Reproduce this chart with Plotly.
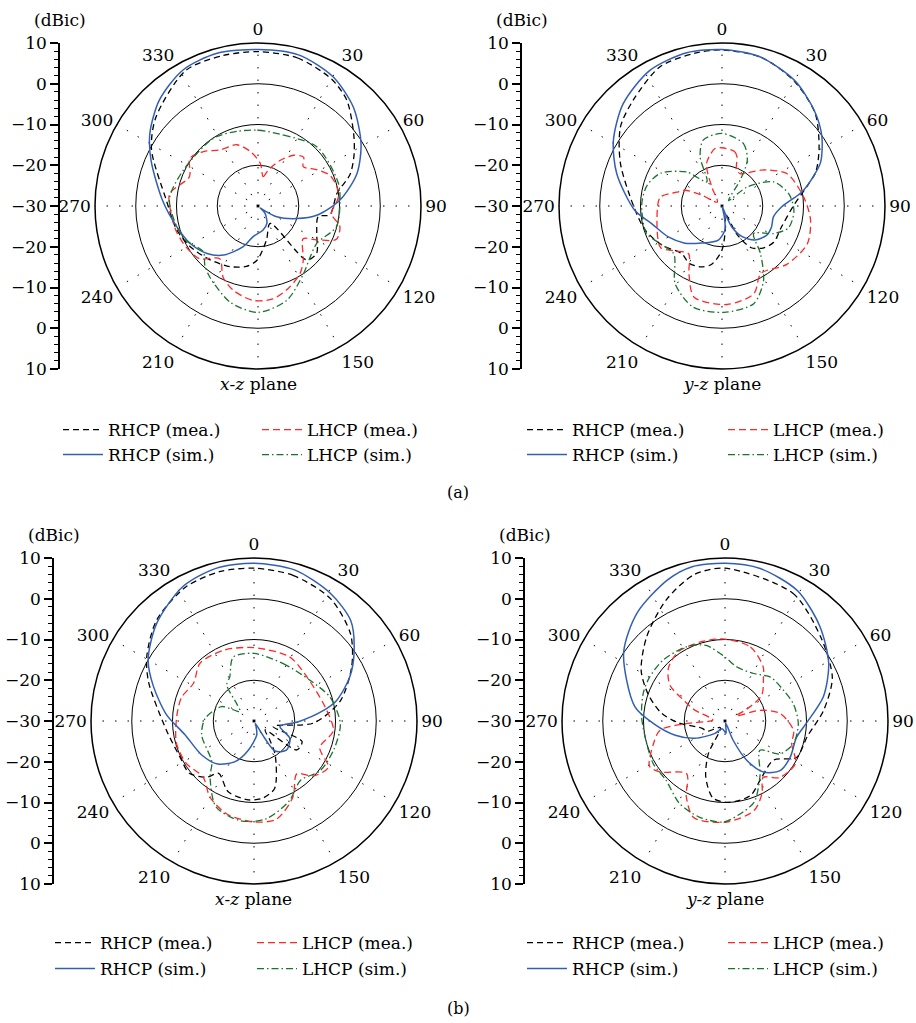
import plotly.graph_objects as go

# ---------------- data: angle (deg) and gain (dBic) ----------------
# (a) x-z plane
A_XZ_RHCP_MEA_T = [0, 15, 30, 40, 53, 62, 71, 81, 90, 97, 100, 115, 129, 138, 145, 166, 181, 191, 205, 222, 239, 254, 274, 298, 311, 332, 347]
A_XZ_RHCP_MEA_R = [7.9, 7.6, 6.0, 3.9, -0.6, -3.3, -6.1, -10.4, -11.5, -12.2, -15.0, -14.1, -11.5, -12.2, -24.8, -21.4, -16.7, -14.9, -13.6, -12.3, -10.6, -9.2, -7.4, -0.4, 3.2, 7.7, 7.9]
A_XZ_LHCP_MEA_T = [3, 10, 16, 26, 35, 43, 49, 58, 67, 76, 84, 96, 104, 113, 120, 126, 140, 148, 159, 171, 183, 196, 206, 216, 228, 240, 253, 265, 278, 293, 305, 315, 326, 341, 352]
A_XZ_LHCP_MEA_R = [-19.5, -22.7, -20.8, -17.5, -14.8, -13.6, -15.3, -13.1, -10.8, -10.1, -10.2, -11.9, -9.3, -9.1, -13.4, -16.3, -12.7, -10.5, -8.6, -6.9, -6.8, -8.4, -10.5, -14.0, -10.7, -9.7, -9.0, -8.6, -8.1, -11.7, -9.6, -11.1, -13.4, -14.1, -16.5]
A_XZ_RHCP_SIM_T = [0, 15, 30, 44, 59, 72, 86, 99, 108, 120, 127, 131, 136, 153, 168, 189, 200, 215, 227, 241, 256, 273, 293, 304, 317, 331, 345]
A_XZ_RHCP_SIM_R = [8.4, 8.4, 6.7, 3.7, -0.5, -4.5, -9.9, -15.4, -20.0, -24.7, -28.4, -29.3, -27.5, -25.2, -24.0, -22.4, -19.4, -15.3, -12.9, -11.0, -9.4, -6.6, -1.5, 2.0, 5.5, 8.1, 8.8]
A_XZ_LHCP_SIM_T = [0, 20, 45, 74, 90, 105, 122, 135, 146, 163, 180, 196, 214, 222, 230, 247, 274, 296, 327, 345]
A_XZ_LHCP_SIM_R = [-11.4, -11.5, -9.5, -9.5, -9.9, -10.1, -12.9, -12.0, -10.0, -5.8, -3.9, -5.4, -8.9, -10.5, -12.5, -10.0, -8.2, -9.7, -10.1, -11.0]

# (a) y-z plane
A_YZ_RHCP_MEA_T = [0, 15, 30, 45, 59, 70, 77, 90, 109, 125, 135, 145, 152, 158, 170, 180, 190, 199, 210, 220, 237, 253, 270, 293, 308, 320, 336, 350]
A_YZ_RHCP_MEA_R = [8.3, 7.7, 5.4, 2.3, -2.2, -5.5, -8.6, -12.5, -14.5, -14.5, -15.5, -17.5, -22.0, -28.0, -25.0, -19.2, -15.5, -14.2, -13.8, -14.7, -12.4, -10.2, -8.3, -2.9, 1.6, 3.9, 7.4, 8.1]
A_YZ_LHCP_MEA_T = [0, 13, 17, 22, 30, 35, 47, 52, 64, 84, 99, 114, 132, 150, 160, 177, 197, 206, 215, 227, 236, 260, 278, 287, 293, 298, 310, 332, 340, 353]
A_YZ_LHCP_MEA_R = [-15.7, -16.3, -17.4, -20.5, -20.9, -20.2, -17.1, -15.6, -12.1, -9.8, -8.0, -7.1, -8.6, -10.9, -7.1, -5.8, -6.6, -11.5, -15.7, -13.9, -11.8, -13.8, -14.7, -18.4, -20.1, -24.3, -28.5, -24.6, -18.9, -15.8]
A_YZ_RHCP_SIM_T = [0, 14, 30, 44, 55, 66, 72, 80, 91, 102, 113, 123, 136, 147, 155, 157, 160, 168, 173, 186, 209, 225, 240, 256, 267, 287, 301, 316, 332, 347]
A_YZ_RHCP_SIM_R = [8.4, 7.8, 5.6, 2.6, -0.1, -3.5, -6.4, -10.1, -15.4, -17.1, -16.8, -16.9, -18.4, -21.1, -24.4, -27.1, -29.8, -27.3, -24.1, -21.6, -19.6, -17.1, -14.8, -12.2, -8.6, -3.0, 1.1, 4.9, 7.7, 8.6]
A_YZ_LHCP_SIM_T = [0, 19, 29, 35, 50, 53, 65, 80, 94, 108, 118, 131, 141, 151, 162, 179, 196, 211, 225, 239, 250, 271, 285, 298, 314, 328, 336, 344]
A_YZ_LHCP_SIM_R = [-12.2, -13.8, -17.2, -22.2, -27.9, -22.3, -16.0, -13.3, -12.3, -12.8, -15.6, -19.7, -15.0, -9.0, -4.8, -3.9, -4.2, -7.7, -13.3, -12.2, -10.3, -10.3, -10.9, -12.9, -18.0, -23.0, -16.8, -13.2]

# (b) x-z plane
B_XZ_RHCP_MEA_T = [0, 15, 32, 48, 61, 77, 92, 106, 113, 124, 129, 140, 148, 163, 174, 184, 200, 214, 220, 231, 244, 264, 290, 301, 316, 333, 347]
B_XZ_RHCP_MEA_R = [7.5, 7.0, 5.4, 1.9, -2.6, -8.3, -15.4, -25.1, -17.2, -17.3, -26.5, -24.0, -20.2, -12.7, -10.9, -10.6, -11.5, -14.5, -12.0, -9.6, -9.8, -8.4, -2.5, 0.7, 4.4, 6.9, 7.6]
B_XZ_LHCP_MEA_T = [0, 29, 50, 79, 97, 112, 122, 133, 141, 153, 167, 180, 196, 210, 222, 238, 254, 273, 288, 302, 317, 337]
B_XZ_LHCP_MEA_R = [-12.0, -12.0, -13.1, -12.2, -10.4, -12.6, -8.5, -10.2, -13.3, -9.0, -5.3, -5.2, -6.2, -8.4, -11.4, -10.4, -10.2, -11.0, -11.3, -12.5, -10.6, -11.1]
B_XZ_RHCP_SIM_T = [0, 15, 31, 44, 55, 65, 76, 82, 91, 102, 116, 132, 145, 148, 152, 160, 169, 191, 205, 220, 237, 259, 274, 289, 300, 315, 332, 346]
B_XZ_RHCP_SIM_R = [8.7, 8.4, 6.5, 4.2, 0.0, -4.0, -9.1, -13.2, -19.1, -23.5, -20.2, -19.3, -21.0, -25.0, -29.3, -28.5, -26.5, -22.7, -19.0, -16.2, -14.7, -12.7, -8.5, -3.9, 0.0, 3.8, 7.3, 8.6]
B_XZ_LHCP_SIM_T = [0, 27, 54, 73, 92, 110, 127, 142, 156, 173, 188, 204, 218, 226, 255, 273, 294, 304, 315, 323, 331, 342]
B_XZ_LHCP_SIM_R = [-13.4, -14.2, -13.0, -10.4, -8.8, -9.2, -9.7, -11.5, -8.6, -5.8, -5.3, -7.0, -12.5, -15.6, -16.7, -18.0, -21.3, -25.9, -24.0, -18.9, -17.7, -13.5]

# (b) y-z plane
B_YZ_RHCP_MEA_T = [0, 28, 49, 68, 84, 101, 117, 129, 147, 161, 177, 189, 199, 207, 215, 240, 253, 268, 277, 289, 301, 317, 334, 348]
B_YZ_RHCP_MEA_R = [7.5, 5.5, 1.2, -1.6, -5.7, -9.5, -10.3, -14.7, -13.5, -10.7, -10.0, -10.9, -15.5, -21.0, -28.0, -25.0, -24.0, -18.5, -14.3, -10.1, -6.0, -1.8, 3.0, 6.7]
B_YZ_LHCP_MEA_T = [0, 19, 35, 42, 55, 61, 66, 73, 82, 98, 109, 121, 136, 146, 153, 162, 179, 198, 207, 216, 232, 239, 252, 262, 266, 275, 290, 296, 303, 313, 326, 344]
B_YZ_LHCP_MEA_R = [-9.9, -10.8, -13.7, -15.9, -19.0, -23.5, -27.0, -21.0, -16.4, -13.0, -12.7, -9.8, -10.7, -13.3, -10.0, -6.9, -5.2, -5.1, -9.1, -14.0, -9.7, -8.4, -11.5, -13.9, -20.0, -27.0, -22.0, -19.1, -13.9, -11.0, -9.5, -9.7]
B_YZ_RHCP_SIM_T = [0, 13, 29, 45, 61, 76, 91, 103, 119, 132, 143, 151, 157, 162, 175, 200, 219, 240, 254, 267, 279, 304, 321, 338, 348]
B_YZ_RHCP_SIM_R = [8.7, 8.4, 6.6, 2.9, -0.9, -5.1, -9.9, -12.0, -11.7, -11.8, -14.3, -19.0, -24.8, -29.5, -27.0, -28.0, -26.1, -21.5, -17.3, -12.8, -7.6, 0.0, 4.2, 7.4, 8.7]
B_YZ_LHCP_SIM_T = [0, 12, 31, 46, 62, 76, 92, 108, 121, 130, 147, 160, 169, 181, 195, 209, 225, 239, 254, 273, 289, 300, 315, 333, 346]
B_YZ_LHCP_SIM_R = [-14.3, -16.4, -16.4, -14.5, -13.8, -12.7, -12.0, -12.3, -14.3, -18.8, -14.2, -8.9, -7.2, -5.2, -5.6, -6.9, -9.5, -9.5, -10.0, -9.5, -8.8, -8.6, -8.7, -9.5, -10.9]

ANGLE_TICKS = list(range(0, 360, 30))
ANGLE_LABELS = ["0", "30", "60", "90", "120", "150", "", "210", "240", "270", "300", "330"]
LEFT_SCALE_VALUES = [-40, -30, -20, -10, 0, 10, 20, 30, 40]
LEFT_SCALE_LABELS = ["10", "0", "\u221210", "\u221220", "\u221230", "\u221220", "\u221210", "0", "10"]
SERIES_NAMES = ["RHCP (mea.)", "LHCP (mea.)", "RHCP (sim.)", "LHCP (sim.)"]
PLANE_LABELS = ["<i>x</i>-<i>z</i> plane", "<i>y</i>-<i>z</i> plane",
                "<i>x</i>-<i>z</i> plane", "<i>y</i>-<i>z</i> plane"]

PANEL_DATA = [
    [(A_XZ_RHCP_MEA_T, A_XZ_RHCP_MEA_R), (A_XZ_LHCP_MEA_T, A_XZ_LHCP_MEA_R),
     (A_XZ_RHCP_SIM_T, A_XZ_RHCP_SIM_R), (A_XZ_LHCP_SIM_T, A_XZ_LHCP_SIM_R)],
    [(A_YZ_RHCP_MEA_T, A_YZ_RHCP_MEA_R), (A_YZ_LHCP_MEA_T, A_YZ_LHCP_MEA_R),
     (A_YZ_RHCP_SIM_T, A_YZ_RHCP_SIM_R), (A_YZ_LHCP_SIM_T, A_YZ_LHCP_SIM_R)],
    [(B_XZ_RHCP_MEA_T, B_XZ_RHCP_MEA_R), (B_XZ_LHCP_MEA_T, B_XZ_LHCP_MEA_R),
     (B_XZ_RHCP_SIM_T, B_XZ_RHCP_SIM_R), (B_XZ_LHCP_SIM_T, B_XZ_LHCP_SIM_R)],
    [(B_YZ_RHCP_MEA_T, B_YZ_RHCP_MEA_R), (B_YZ_LHCP_MEA_T, B_YZ_LHCP_MEA_R),
     (B_YZ_RHCP_SIM_T, B_YZ_RHCP_SIM_R), (B_YZ_LHCP_SIM_T, B_YZ_LHCP_SIM_R)],
]

# ---------------- layout / style ----------------
W, H = 916, 1023
R = 163
FONT = "DejaVu Serif"
FS = 17
# panel geometry in px: polar centre, left scale x, legend rows y, legend item x
PANELS = [
    dict(cx=258, cy=206, ax=60, rows=(430, 455), lx=(58, 252)),
    dict(cx=722, cy=206, ax=522, rows=(430, 455), lx=(522, 718)),
    dict(cx=254, cy=721, ax=54, rows=(943, 969), lx=(50, 247)),
    dict(cx=725, cy=721, ax=525, rows=(943, 969), lx=(522, 718)),
]
STYLES = [
    dict(color="black", width=1.3, dash="6px,4px"),
    dict(color="rgb(255,40,40)", width=1.3, dash="7px,4px"),
    dict(color="rgb(50,95,180)", width=1.5, dash="solid"),
    dict(color="rgb(25,115,45)", width=1.3, dash="7px,3px,1.5px,3px"),
]

def px_x(p):
    return p / W

def px_y(p):
    return 1 - p / H

fig = go.Figure()
layout = dict(width=W, height=H, margin=dict(l=0, r=0, t=0, b=0, pad=0, autoexpand=False),
              paper_bgcolor="white", plot_bgcolor="white",
              font=dict(family=FONT, size=FS, color="black"),
              annotations=[])

for k, (panel, series) in enumerate(zip(PANELS, PANEL_DATA)):
    sub = "polar" if k == 0 else f"polar{k+1}"
    leg_mea = f"legend{2*k+1}" if k > 0 else "legend"
    leg_sim = f"legend{2*k+2}"
    for i, ((th, rr), name, st) in enumerate(zip(series, SERIES_NAMES, STYLES)):
        fig.add_trace(go.Scatterpolar(
            theta=list(th) + [th[0]], r=list(rr) + [rr[0]],
            mode="lines", name=name, subplot=sub,
            line=dict(color=st["color"], width=st["width"], dash=st["dash"],
                      shape="spline", smoothing=0.8),
            legend=leg_mea if i < 2 else leg_sim,
            hoverinfo="skip"))
    layout[sub] = dict(
        domain=dict(x=[px_x(panel["cx"] - R), px_x(panel["cx"] + R)],
                    y=[px_y(panel["cy"] + R), px_y(panel["cy"] - R)]),
        bgcolor="white",
        angularaxis=dict(rotation=90, direction="clockwise", tickmode="array",
                         tickvals=ANGLE_TICKS, ticktext=ANGLE_LABELS,
                         showline=True, linecolor="black", linewidth=1.5,
                         showgrid=True, gridcolor="black", gridwidth=1,
                         griddash="1.5px,11px", ticks="",
                         tickfont=dict(family=FONT, size=FS, color="black")),
        radialaxis=dict(range=[-30, 10], tickvals=[-20, -10, 0], showticklabels=False,
                        ticks="", showline=False, gridcolor="black", gridwidth=1.2),
    )
    # left dBic scale
    xa = "xaxis" if k == 0 else f"xaxis{k+1}"
    ya = "yaxis" if k == 0 else f"yaxis{k+1}"
    xr = "x" if k == 0 else f"x{k+1}"
    yr = "y" if k == 0 else f"y{k+1}"
    fig.add_trace(go.Scatter(x=[None], y=[None], xaxis=xr, yaxis=yr,
                             showlegend=False, hoverinfo="skip"))
    layout[xa] = dict(domain=[px_x(panel["ax"]), px_x(panel["ax"] + 2)], range=[0, 1],
                      visible=False, fixedrange=True, anchor=yr)
    layout[ya] = dict(domain=[px_y(panel["cy"] + R), px_y(panel["cy"] - R)],
                      range=[-40, 40], anchor=xr, side="left", automargin=False,
                      tickmode="array", tickvals=LEFT_SCALE_VALUES, ticktext=LEFT_SCALE_LABELS,
                      showline=True, linecolor="black", linewidth=1.5,
                      ticks="outside", ticklen=8, tickwidth=1.5, tickcolor="black",
                      minor=dict(tickmode="linear", tick0=0, dtick=2, ticks="outside",
                                 ticklen=4, tickwidth=1, tickcolor="black", showgrid=False),
                      showgrid=False, zeroline=False, fixedrange=True,
                      tickfont=dict(family=FONT, size=FS, color="black"))
    layout["annotations"].append(dict(text="(dBic)", x=px_x(panel["ax"]), y=px_y(20 if k < 2 else 535),
                                      xref="paper", yref="paper", showarrow=False,
                                      xanchor="center", yanchor="middle",
                                      font=dict(family=FONT, size=FS)))
    layout["annotations"].append(dict(text=PLANE_LABELS[k], x=px_x(panel["cx"]),
                                      y=px_y(panel["cy"] + 178), xref="paper", yref="paper",
                                      showarrow=False, xanchor="center", yanchor="middle",
                                      font=dict(family=FONT, size=FS)))
    for leg, ry in ((leg_mea, panel["rows"][0]), (leg_sim, panel["rows"][1])):
        layout[leg] = dict(orientation="h", x=px_x(panel["lx"][0]), xanchor="left",
                           y=px_y(ry), yanchor="middle", bgcolor="rgba(0,0,0,0)",
                           itemwidth=40, entrywidth=panel["lx"][1] - panel["lx"][0] - 50,
                           entrywidthmode="pixels", traceorder="normal",
                           font=dict(family=FONT, size=FS, color="black"),
                           itemclick=False, itemdoubleclick=False)

for txt, yy in (("(a)", 492), ("(b)", 1008)):
    layout["annotations"].append(dict(text=txt, x=px_x(458), y=px_y(yy), xref="paper", yref="paper",
                                      showarrow=False, xanchor="center", yanchor="middle",
                                      font=dict(family=FONT, size=FS - 1)))

fig.update_layout(**layout)
fig.write_html("out.html")
